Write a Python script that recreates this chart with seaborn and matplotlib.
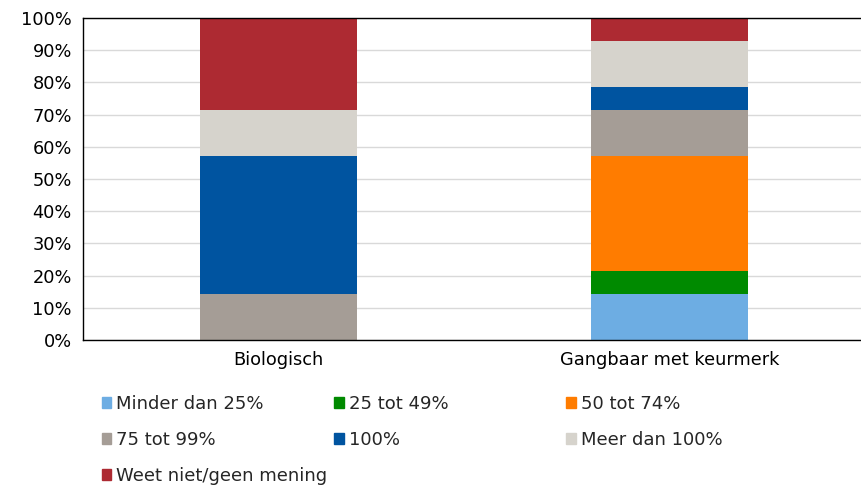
import numpy as np
import matplotlib
matplotlib.use("Agg")
import matplotlib.pyplot as plt
import matplotlib.patches as mpatches
import seaborn as sns

categories = ["Biologisch", "Gangbaar met keurmerk"]
labels = ["Minder dan 25%", "25 tot 49%", "50 tot 74%", "75 tot 99%",
          "100%", "Meer dan 100%", "Weet niet/geen mening"]
# share per answer (%) for Biologisch and Gangbaar met keurmerk
biologisch = [0.0, 0.0, 0.0, 14.3, 42.9, 14.3, 28.6]
gangbaar = [14.3, 7.1, 35.7, 14.3, 7.1, 14.3, 7.1]
colors = ["#6DADE3", "#008A00", "#FF7C00", "#A59D96",
          "#0054A0", "#D6D3CC", "#AD2A32"]

sns.set_style("white")
plt.rcParams["font.family"] = ["DejaVu Sans"]

fig = plt.figure(figsize=(8.61, 4.86), dpi=100)
ax = fig.add_axes([83 / 861, 1 - 340 / 486, 782 / 861, 322 / 486])

bottom = np.zeros(2)
for i, lab in enumerate(labels):
    vals = np.array([biologisch[i], gangbaar[i]])
    sns.barplot(x=categories, y=vals, bottom=bottom, color=colors[i],
                width=0.4, linewidth=0, saturation=1, ax=ax)
    bottom = bottom + vals

ax.set_ylim(0, 100)
ax.set_xlim(-0.5, 1.5)
ax.set_yticks(range(0, 101, 10))
ax.set_yticklabels([f"{t}%" for t in range(0, 101, 10)])
ax.yaxis.grid(True, color="#D9D9D9", linewidth=1)
ax.set_axisbelow(True)
ax.tick_params(axis="both", length=0, labelsize=12.8, colors="#000000", pad=8)
ax.tick_params(axis="x", pad=8)
for s in ax.spines.values():
    s.set_color("black")
    s.set_linewidth(1)
ax.spines["right"].set_visible(False)
ax.set_xlabel("")
ax.set_ylabel("")

# legend: three columns, laid out row by row like the original
columns = [[0, 3, 6], [1, 4], [2, 5]]
col_x = [101.5 / 861, 334 / 861, 566 / 861]
for cx, idx in zip(col_x, columns):
    handles = [mpatches.Patch(color=colors[j], label=labels[j]) for j in idx]
    fig.legend(handles=handles, loc="upper left", bbox_to_anchor=(cx, 1 - 395 / 486),
               frameon=False, fontsize=13, handlelength=0.55, handleheight=0.55,
               handletextpad=0.28, labelspacing=1.0, borderaxespad=0,
               borderpad=0)

fig.savefig("out.png", dpi=100)
